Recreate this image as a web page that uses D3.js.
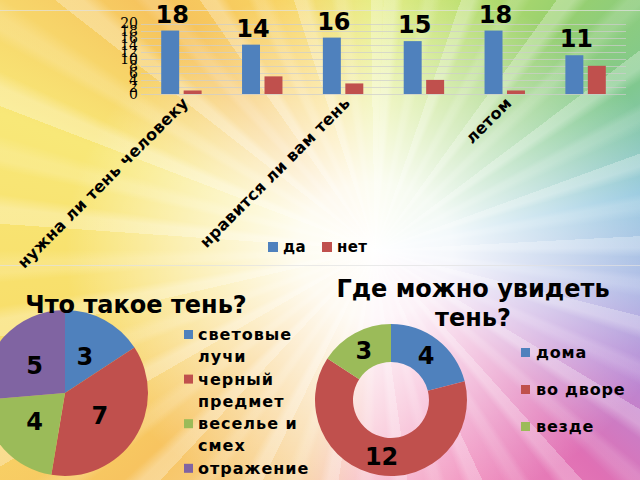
<!DOCTYPE html>
<html><head><meta charset="utf-8">
<script src="https://cdn.jsdelivr.net/npm/d3@7"></script>
<style>
html,body{margin:0;padding:0;width:640px;height:480px;overflow:hidden;}
#bg{position:absolute;left:0;top:0;width:640px;height:480px;
background:
 radial-gradient(ellipse 310px 270px at 375px 250px, rgba(255,255,255,1) 0px, rgba(255,255,255,0.9) 25%, rgba(255,255,255,0.5) 60%, rgba(255,255,255,0) 100%),
 repeating-conic-gradient(from 2deg at 375px 250px, rgba(255,255,255,0.28) 0deg 2.5deg, rgba(255,255,255,0) 4.5deg 8deg, rgba(255,255,255,0.15) 9.5deg 11deg, rgba(255,255,255,0) 13deg 17deg),
 conic-gradient(from 0deg at 375px 250px, #e4ec7a 0deg, #bfe06e 18deg, #98d06e 38deg, #80c890 58deg, #8cc4dc 78deg, #a2b0e2 98deg, #b888d4 115deg, #e070b4 135deg, #f08cbc 158deg, #f7b8cc 180deg, #f8d49a 200deg, #f7c460 228deg, #f8de6a 258deg, #f8e878 290deg, #f6c25c 318deg, #f8d462 340deg, #e4ec7a 360deg);}
svg{position:absolute;left:0;top:0;}
text{font-family:"DejaVu Sans",sans-serif;font-weight:bold;fill:#000;}
</style></head>
<body><div id="bg"></div><svg id="c" width="640" height="480"></svg>
<script>
// ---- data ----
const barTickLabels = ["нужна ли тень человеку", "", "нравится ли вам тень", "", "летом", ""];
const barSeries = ["да", "нет"];
const daValues = [18, 14, 16, 15, 18, 11];
const netValues = [1, 5, 3, 4, 1, 8];
const yTicks = [0, 2, 4, 6, 8, 10, 12, 14, 16, 18, 20];

const pieTitle = "Что такое тень?";
const pieLabels = ["световые лучи", "черный предмет", "веселье и смех", "отражение"];
const pieValues = [3, 7, 4, 5];

const donutTitle = ["Где можно увидеть", "тень?"];
const donutLabels = ["дома", "во дворе", "везде"];
const donutValues = [4, 12, 3];

const colors = ["#4F81BD", "#C0504D", "#9BBB59", "#8064A2"];

const svg = d3.select("#c");

// ---- chart frame lines ----
svg.append("line").attr("x1",0).attr("x2",640).attr("y1",10.5).attr("y2",10.5).attr("stroke","rgba(225,225,225,0.7)");
svg.append("line").attr("x1",0).attr("x2",640).attr("y1",265.5).attr("y2",265.5).attr("stroke","rgba(225,225,225,0.7)");

// ---- bar chart ----
const idx = d3.range(daValues.length);
const x0 = d3.scaleBand().domain(idx).range([141, 626]).paddingInner(0.5).paddingOuter(0.25);
const x1 = d3.scaleBand().domain(barSeries).range([0, x0.bandwidth()]).paddingInner(0.2);
const y = d3.scaleLinear().domain([0, 20]).range([94, 23.5]);

const grid = svg.append("g");
grid.selectAll("line").data(yTicks).join("line")
  .attr("x1", 141).attr("x2", 626)
  .attr("y1", d => Math.round(y(d)) + 0.5).attr("y2", d => Math.round(y(d)) + 0.5)
  .attr("stroke", "rgba(205,205,205,0.7)").attr("stroke-width", 1);

const yAxis = d3.axisLeft(y).tickValues(yTicks).tickSize(0).tickPadding(0);
const ya = svg.append("g").attr("transform", "translate(138,0)").call(yAxis);
ya.select(".domain").remove();
ya.selectAll("text").style("font-family", "'DejaVu Serif',serif").style("font-weight", "normal")
  .style("font-size", "14px").attr("fill", "#000");

const seriesVals = { "да": daValues, "нет": netValues };
barSeries.forEach((s, si) => {
  svg.append("g").selectAll("rect").data(idx).join("rect")
    .attr("x", i => x0(i) + x1(s))
    .attr("width", x1.bandwidth())
    .attr("y", i => y(seriesVals[s][i]))
    .attr("height", i => y(0) - y(seriesVals[s][i]))
    .attr("fill", colors[si]);
});
svg.append("g").selectAll("text").data(idx).join("text")
  .attr("x", i => x0(i) + x1("да") + x1.bandwidth() / 2 + 2)
  .attr("y", i => y(daValues[i]) - 8)
  .attr("text-anchor", "middle").style("font-size", "24px")
  .text(i => daValues[i]);

// x labels
svg.append("g").selectAll("text").data(idx.filter(i => barTickLabels[i] !== "")).join("text")
  .attr("transform", i => `translate(${x0(i) + x0.bandwidth() / 2 + 8},${104}) rotate(-45)`)
  .attr("text-anchor", "end").style("font-size", "16px").style("letter-spacing", "0.3px")
  .text(i => barTickLabels[i]);

// legend
const bl = svg.append("g");
const blx = [268, 322];
barSeries.forEach((s, si) => {
  bl.append("rect").attr("x", blx[si]).attr("y", 242).attr("width", 10).attr("height", 10).attr("fill", colors[si]);
  bl.append("text").attr("x", blx[si] + 15).attr("y", 252).style("font-size", "15px").style("letter-spacing", "0.4px").text(s);
});

// ---- pie ----
const pie = d3.pie().sort(null).value(d => d);
const pc = [65, 393], pr = 83;
const pArc = d3.arc().innerRadius(0).outerRadius(pr);
const pg = svg.append("g").attr("transform", `translate(${pc[0]},${pc[1]})`);
const pArcs = pie(pieValues);
pg.selectAll("path").data(pArcs).join("path").attr("d", pArc).attr("fill", (d, i) => colors[i]);
pg.selectAll("text").data(pArcs).join("text")
  .attr("x", d => pArc.centroid(d)[0]).attr("y", d => pArc.centroid(d)[1])
  .attr("dy", "0.36em").attr("text-anchor", "middle").style("font-size", "24px")
  .text(d => d.data);
svg.append("text").attr("x", 136).attr("y", 313).attr("text-anchor", "middle").style("font-size", "24px").text(pieTitle);

// pie legend with wrapping
function wrapWords(str, maxW, size) {
  const t = svg.append("text").style("font-size", size + "px").style("letter-spacing", "1px");
  const words = str.split(" "); const lines = []; let cur = "";
  words.forEach(w => {
    const test = cur ? cur + " " + w : w;
    t.text(test);
    if (t.node().getComputedTextLength() > maxW && cur) { lines.push(cur); cur = w; } else cur = test;
  });
  lines.push(cur); t.remove(); return lines;
}
const plg = svg.append("g");
let py = 340;
pieLabels.forEach((lab, i) => {
  plg.append("rect").attr("x", 184).attr("y", py - 10).attr("width", 9).attr("height", 9).attr("fill", colors[i]);
  const lines = wrapWords(lab, 125, 16);
  lines.forEach((ln, k) => {
    plg.append("text").attr("x", 198).attr("y", py + k * 22).style("font-size", "16px")
      .style("letter-spacing", "1px").text(ln);
  });
  py += lines.length * 22.3;
});

// ---- donut ----
const dc = [391, 400], dro = 76, dri = 38;
const dArc = d3.arc().innerRadius(dri).outerRadius(dro);
const dg = svg.append("g").attr("transform", `translate(${dc[0]},${dc[1]})`);
const dArcs = pie(donutValues);
dg.selectAll("path").data(dArcs).join("path").attr("d", dArc).attr("fill", (d, i) => colors[i]);
dg.selectAll("text").data(dArcs).join("text")
  .attr("x", d => dArc.centroid(d)[0]).attr("y", d => dArc.centroid(d)[1])
  .attr("dy", "0.36em").attr("text-anchor", "middle").style("font-size", "24px")
  .text(d => d.data);
const dt = svg.append("text").attr("text-anchor", "middle").style("font-size", "24px");
donutTitle.forEach((ln, k) => dt.append("tspan").attr("x", 473).attr("y", 297 + k * 29).text(ln));

const dlg = svg.append("g");
donutLabels.forEach((lab, i) => {
  const yy = 358 + i * 37;
  dlg.append("rect").attr("x", 521).attr("y", yy - 10).attr("width", 9).attr("height", 9).attr("fill", colors[i]);
  dlg.append("text").attr("x", 536).attr("y", yy).style("font-size", "16px").style("letter-spacing", "0.8px").text(lab);
});
</script></body></html>
